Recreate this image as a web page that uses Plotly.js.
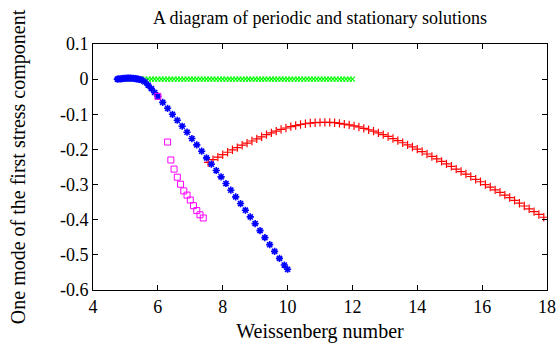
<!DOCTYPE html>
<html>
<head>
<meta charset="utf-8">
<script src="https://cdn.plot.ly/plotly-3.0.1.min.js"></script>
<style>html,body{margin:0;padding:0;background:#fff;}#chart{width:558px;height:343px;}</style>
</head>
<body>
<div id="chart"></div>
<script>
// Stationary solution (green)
var greenX = [4.8,4.9,5.0,5.1,5.2,5.3,5.4,5.5,5.6,5.7,5.8,5.9,6.0,6.1,6.2,6.3,6.4,6.5,6.6,6.7,6.8,6.9,7.0,7.1,7.2,7.3,7.4,7.5,7.6,7.7,7.8,7.9,8.0,8.1,8.2,8.3,8.4,8.5,8.6,8.7,8.8,8.9,9.0,9.1,9.2,9.3,9.4,9.5,9.6,9.7,9.8,9.9,10.0,10.1,10.2,10.3,10.4,10.5,10.6,10.7,10.8,10.9,11.0,11.1,11.2,11.3,11.4,11.5,11.6,11.7,11.8,11.9,12.0];
var greenY = [0,0,0,0,0,0,0,0,0,0,0,0,0,0,0,0,0,0,0,0,0,0,0,0,0,0,0,0,0,0,0,0,0,0,0,0,0,0,0,0,0,0,0,0,0,0,0,0,0,0,0,0,0,0,0,0,0,0,0,0,0,0,0,0,0,0,0,0,0,0,0,0,0];

// Blue branch
var blueX = [4.75,4.8,4.85,4.9,4.95,5.0,5.05,5.1,5.15,5.2,5.25,5.3,5.35,5.4,5.45,5.5,5.6,5.7,5.8,5.9,6.0,6.15,6.3,6.45,6.6,6.75,6.9,7.05,7.2,7.35,7.5,7.65,7.8,7.95,8.1,8.25,8.4,8.55,8.7,8.85,9.0,9.15,9.3,9.45,9.6,9.75,9.9,10.0];
var blueY = [0,0.0005,0.001,0.0015,0.002,0.0025,0.003,0.003,0.003,0.0025,0.002,0.0015,0.001,0,-0.001,-0.003,-0.008,-0.017,-0.027,-0.038,-0.049,-0.066,-0.083,-0.1,-0.117,-0.134,-0.151,-0.169,-0.187,-0.205,-0.224,-0.242,-0.26,-0.278,-0.297,-0.316,-0.335,-0.354,-0.373,-0.392,-0.411,-0.431,-0.451,-0.471,-0.49,-0.51,-0.529,-0.541];

// Red branch
var redX = [7.55,7.7,7.85,8.0,8.15,8.3,8.45,8.6,8.75,8.9,9.05,9.2,9.35,9.5,9.65,9.8,9.95,10.1,10.25,10.4,10.55,10.7,10.85,11.0,11.15,11.3,11.45,11.6,11.75,11.9,12.05,12.2,12.35,12.5,12.65,12.8,12.95,13.1,13.25,13.4,13.55,13.7,13.85,14.0,14.15,14.3,14.45,14.6,14.75,14.9,15.05,15.2,15.35,15.5,15.65,15.8,15.95,16.1,16.25,16.4,16.55,16.7,16.85,17.0,17.15,17.3,17.45,17.6,17.75,17.9];
var redY = [-0.237,-0.229,-0.222,-0.215,-0.208,-0.201,-0.195,-0.188,-0.182,-0.176,-0.17,-0.164,-0.158,-0.153,-0.148,-0.143,-0.139,-0.135,-0.132,-0.129,-0.127,-0.125,-0.124,-0.123,-0.123,-0.123,-0.124,-0.126,-0.128,-0.13,-0.133,-0.136,-0.14,-0.144,-0.148,-0.153,-0.158,-0.163,-0.169,-0.175,-0.181,-0.187,-0.193,-0.199,-0.206,-0.213,-0.22,-0.227,-0.234,-0.241,-0.248,-0.256,-0.263,-0.27,-0.277,-0.285,-0.292,-0.3,-0.307,-0.315,-0.322,-0.33,-0.337,-0.345,-0.353,-0.361,-0.369,-0.377,-0.385,-0.393];

// Magenta points
var magX = [6.0,6.3,6.4,6.5,6.6,6.7,6.8,6.9,7.0,7.1,7.2,7.3,7.4];
var magY = [-0.049,-0.179,-0.23,-0.256,-0.279,-0.299,-0.318,-0.33,-0.344,-0.36,-0.374,-0.386,-0.395];

var xTickVals = [4,6,8,10,12,14,16,18];
var xTickText = ['4','6','8','10','12','14','16','18'];
var yTickVals = [0.1,0,-0.1,-0.2,-0.3,-0.4,-0.5,-0.6];
var yTickText = ['0.1','0','-0.1','-0.2','-0.3','-0.4','-0.5','-0.6'];

var FONT = '"Liberation Serif", serif';

var traces = [
  {x: greenX, y: greenY, type: 'scatter', mode: 'markers',
   marker: {symbol: 'x-thin-open', size: 5, color: '#00ff00', line: {color: '#00ff00', width: 1.2}}},
  {x: redX, y: redY, type: 'scatter', mode: 'markers',
   marker: {symbol: 'cross-thin-open', size: 6, color: '#ff0000', line: {color: '#ff0000', width: 1.2}}},
  {x: blueX, y: blueY, type: 'scatter', mode: 'markers',
   marker: {symbol: 'asterisk-open', size: 6, color: '#0000ff', line: {color: '#0000ff', width: 1.6}}},
  {x: magX, y: magY, type: 'scatter', mode: 'markers',
   marker: {symbol: 'square-open', size: 6, color: '#ff00ff', line: {color: '#ff00ff', width: 1}}}
];

var layout = {
  width: 558, height: 343,
  margin: {l: 93, r: 11, t: 44, b: 53},
  paper_bgcolor: '#ffffff', plot_bgcolor: '#ffffff',
  showlegend: false,
  font: {family: FONT, size: 18, color: '#000'},
  title: {text: 'A diagram of periodic and stationary solutions', font: {family: FONT, size: 18, color: '#000'},
          x: 0.5735, xanchor: 'center', y: 0.9475, yanchor: 'middle'},
  xaxis: {range: [4, 18], tickmode: 'array', tickvals: xTickVals, ticktext: xTickText,
          ticks: 'inside', ticklen: 5, tickcolor: '#000', showgrid: false, zeroline: false,
          showline: true, linecolor: '#000', linewidth: 1, mirror: 'allticks',
          tickfont: {family: FONT, size: 18, color: '#000'},
          title: {text: 'Weissenberg number', font: {family: FONT, size: 20, color: '#000'}, standoff: 12}},
  yaxis: {range: [-0.6, 0.1], tickmode: 'array', tickvals: yTickVals, ticktext: yTickText,
          ticks: 'inside', ticklen: 5, tickcolor: '#000', showgrid: false, zeroline: false,
          showline: true, linecolor: '#000', linewidth: 1, mirror: 'allticks',
          tickfont: {family: FONT, size: 18, color: '#000'},
          title: {text: 'One mode of the first stress component', font: {family: FONT, size: 20, color: '#000'}, standoff: 28}}
};

Plotly.newPlot('chart', traces, layout, {displayModeBar: false, staticPlot: true});
</script>
</body>
</html>
